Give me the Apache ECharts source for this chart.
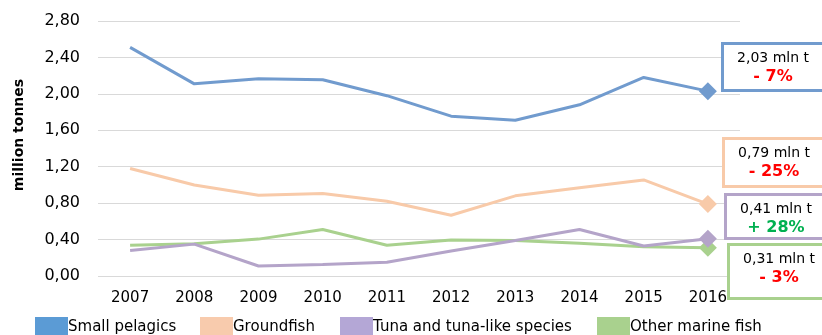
<!DOCTYPE html>
<html>
<head>
<meta charset="utf-8">
<script src="https://cdn.jsdelivr.net/npm/echarts@6/dist/echarts.min.js"></script>
<style>
html,body{margin:0;padding:0;background:#fff;}
#chart{width:822px;height:335px;}
</style>
</head>
<body>
<div id="chart"></div>
<script>
// ---- data ----
var years = ['2007','2008','2009','2010','2011','2012','2013','2014','2015','2016'];
var seriesNames = ['Small pelagics','Groundfish','Tuna and tuna-like species','Other marine fish'];
var smallPelagics = [2.51, 2.11, 2.165, 2.155, 1.98, 1.755, 1.71, 1.88, 2.18, 2.03];
var groundfish    = [1.18, 1.00, 0.887, 0.905, 0.82, 0.667, 0.88, 0.97, 1.055, 0.79];
var tuna          = [0.28, 0.35, 0.11, 0.125, 0.15, 0.275, 0.39, 0.51, 0.33, 0.41];
var otherMarine   = [0.337, 0.355, 0.405, 0.51, 0.337, 0.395, 0.39, 0.36, 0.32, 0.31];
var changeLabels  = ['- 7%', '- 25%', '+ 28%', '- 3%'];
var yTicks = { min: 0, max: 2.8, interval: 0.4 };
var yAxisTitle = 'million tonnes';

// ---- styles ----
var FONT = 'DejaVu Sans';
var lineColors   = ['#719bce', '#f8caa9', '#b4a4c9', '#a9d18e'];
var legendColors = ['#5b9bd5', '#f8cbad', '#b4a7d6', '#a9d18e'];
var changeColors = ['#ff0000', '#ff0000', '#00b050', '#ff0000'];
var allData = [smallPelagics, groundfish, tuna, otherMarine];
var boxes = [
  {x: 721, y: 42, w: 104, h: 47},
  {x: 722, y: 137, w: 104, h: 48},
  {x: 724, y: 193, w: 104, h: 44},
  {x: 727, y: 243, w: 104, h: 54}
];
var legendLefts = [35, 200, 340, 597];

function fmt(v){ return v.toFixed(2).replace('.', ','); }

var series = seriesNames.map(function(name, i){
  var last = allData[i].length - 1;
  return {
    name: name,
    type: 'line',
    data: allData[i],
    symbol: function(val, params){ return params.dataIndex === last ? 'diamond' : 'none'; },
    symbolSize: 18,
    showAllSymbol: true,
    lineStyle: { color: lineColors[i], width: 3 },
    itemStyle: { color: lineColors[i] },
    emphasis: { disabled: true },
    animation: false,
    z: 10 - i
  };
});

var graphics = [{
  type: 'text', x: 19, y: 135, rotation: Math.PI / 2,
  style: { text: yAxisTitle, font: 'bold 14px "' + FONT + '"', fill: '#000', align: 'center', verticalAlign: 'middle' }
}];
seriesNames.forEach(function(name, i){
  var b = boxes[i];
  var lastVal = allData[i][allData[i].length - 1];
  graphics.push({
    type: 'rect', left: b.x, top: b.y,
    shape: { width: b.w, height: b.h },
    style: { fill: '#fff', stroke: lineColors[i], lineWidth: 3 },
    z: 100
  });
  graphics.push({
    type: 'text', x: b.x + 52, y: b.y + 16,
    style: { text: fmt(lastVal) + ' mln t', font: '14px "' + FONT + '"', fill: '#000', align: 'center', verticalAlign: 'middle' },
    z: 101
  });
  graphics.push({
    type: 'text', x: b.x + 52, y: b.y + 35,
    style: { text: changeLabels[i], font: 'bold 16px "' + FONT + '"', fill: changeColors[i], align: 'center', verticalAlign: 'middle' },
    z: 101
  });
});

var legends = seriesNames.map(function(name, i){
  return {
    data: [{ name: name, itemStyle: { color: legendColors[i] } }],
    left: legendLefts[i], top: 317,
    icon: 'rect', itemWidth: 33, itemHeight: 21,
    padding: 0,
    selectedMode: false,
    textStyle: { fontFamily: FONT, fontSize: 15, color: '#000', padding: [2,0,0,-5] }
  };
});

var chart = echarts.init(document.getElementById('chart'));
chart.setOption({
  animation: false,
  backgroundColor: '#fff',
  grid: { left: 98, right: 82, top: 21, bottom: 59, containLabel: false },
  legend: legends,
  xAxis: {
    type: 'category', data: years, boundaryGap: true,
    axisLine: { show: false }, axisTick: { show: false },
    axisLabel: { fontFamily: FONT, fontSize: 15, color: '#000', margin: 15 }
  },
  yAxis: {
    type: 'value', min: yTicks.min, max: yTicks.max, interval: yTicks.interval,
    axisLine: { show: false }, axisTick: { show: false },
    splitLine: { lineStyle: { color: '#d9d9d9', width: 1 } },
    axisLabel: { fontFamily: FONT, fontSize: 16, color: '#000', margin: 18, formatter: fmt }
  },
  series: series,
  graphic: graphics
});
</script>
</body>
</html>
